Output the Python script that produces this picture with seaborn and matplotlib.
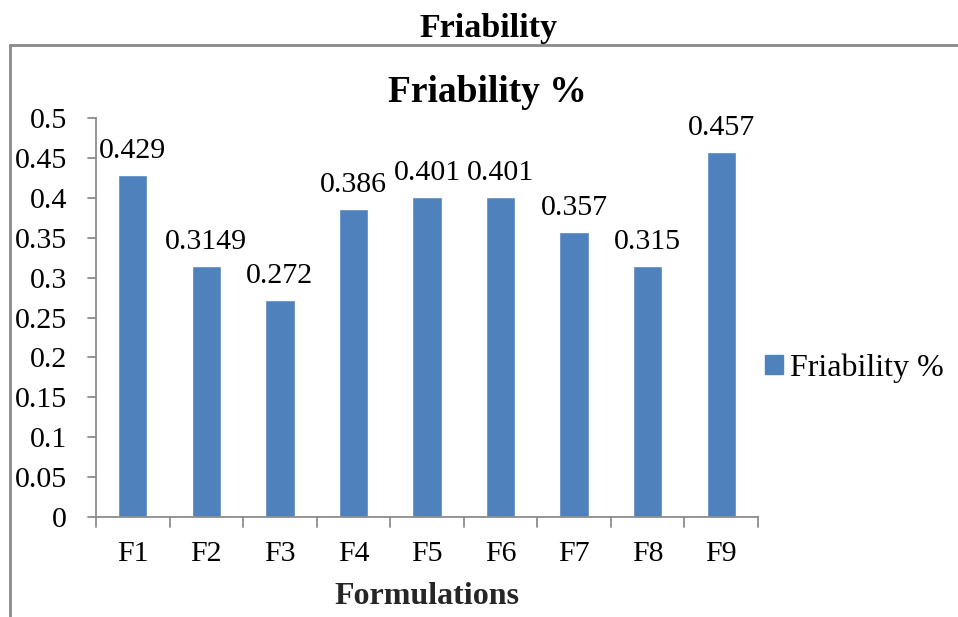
import matplotlib
matplotlib.use("Agg")
import matplotlib.pyplot as plt
import seaborn as sns
import pandas as pd
from matplotlib.patches import Patch
from matplotlib.lines import Line2D

categories = ["F1", "F2", "F3", "F4", "F5", "F6", "F7", "F8", "F9"]
values = [0.429, 0.3149, 0.272, 0.386, 0.401, 0.401, 0.357, 0.315, 0.457]
labels = ["0.429", "0.3149", "0.272", "0.386", "0.401", "0.401", "0.357", "0.315", "0.457"]
yticks = [0, 0.05, 0.1, 0.15, 0.2, 0.25, 0.3, 0.35, 0.4, 0.45, 0.5]
ytick_labels = ["0", "0.05", "0.1", "0.15", "0.2", "0.25", "0.3", "0.35", "0.4", "0.45", "0.5"]

sns.set_theme(style="white")
plt.rcParams["font.family"] = ["Liberation Serif", "DejaVu Serif"]
plt.rcParams["text.color"] = "black"
plt.rcParams["xtick.color"] = "black"
plt.rcParams["ytick.color"] = "black"

W, H = 958, 617
fig = plt.figure(figsize=(W / 100, H / 100), dpi=100)
ax = fig.add_axes([96 / W, 1 - 517 / H, (758 - 96) / W, (517 - 118) / H])

df = pd.DataFrame({"Formulation": categories, "Friability": values})
color = "#4F81BD"
sns.barplot(data=df, x="Formulation", y="Friability", color=color, width=0.4,
            saturation=1, ax=ax)

FS = 21.5
for i, (v, lab) in enumerate(zip(values, labels)):
    ax.annotate(lab, (i, v), xytext=(0, 8), textcoords="offset points",
                ha="center", va="bottom", fontsize=FS, color="black")

ax.set_ylim(0, 0.5)
ax.set_xlim(-0.5, len(categories) - 0.5)
ax.set_yticks(yticks)
ax.set_yticklabels(ytick_labels, fontsize=FS)
ax.set_xticks(range(len(categories)))
ax.set_xticklabels(categories, fontsize=FS)
ax.tick_params(axis="x", length=0, pad=17)
ax.tick_params(axis="y", length=0, pad=21)
# boundary ticks on x-axis
for b in [i - 0.5 for i in range(len(categories) + 1)]:
    ax.plot([b, b], [0, -0.012], color="#8c8c8c", lw=1.3, clip_on=False)
for t in yticks:
    ax.plot([-0.5 - 0.11, -0.5], [t, t], color="#8c8c8c", lw=1.3, clip_on=False)

for s in ["top", "right"]:
    ax.spines[s].set_visible(False)
for s in ["left", "bottom"]:
    ax.spines[s].set_color("#8c8c8c")
    ax.spines[s].set_linewidth(1.3)

ax.set_xlabel("Formulations", fontsize=23, fontweight="bold")
ax.set_ylabel("")
ax.xaxis.label.set_va("center")
ax.xaxis.set_label_coords((427 - 96) / (758 - 96), -(597 - 517) / (517 - 118))

fig.text(487 / W, 1 - 93 / H, "Friability %", ha="center", va="center",
         fontsize=27, fontweight="bold")
fig.text(489 / W, 1 - 28 / H, "Friability", ha="center", va="center",
         fontsize=24.5, fontweight="bold")

handles = [Patch(facecolor=color, edgecolor=color, label="Friability %")]
fig.legend(handles=handles, loc="center left", bbox_to_anchor=(765 / W, 1 - 368 / H),
           frameon=False, fontsize=23, handlelength=0.55, handleheight=0.55,
           handletextpad=0.22, borderaxespad=0, borderpad=0)

# outer chart border, cropped at right and bottom
fig.add_artist(Line2D([10 / W, 10 / W], [1 - 45 / H, 0], transform=fig.transFigure,
                      color="#8a8a8a", lw=2))
fig.add_artist(Line2D([10 / W, 1], [1 - 45 / H, 1 - 45 / H], transform=fig.transFigure,
                      color="#8a8a8a", lw=2))

fig.savefig("out.png", dpi=100, facecolor="white")
